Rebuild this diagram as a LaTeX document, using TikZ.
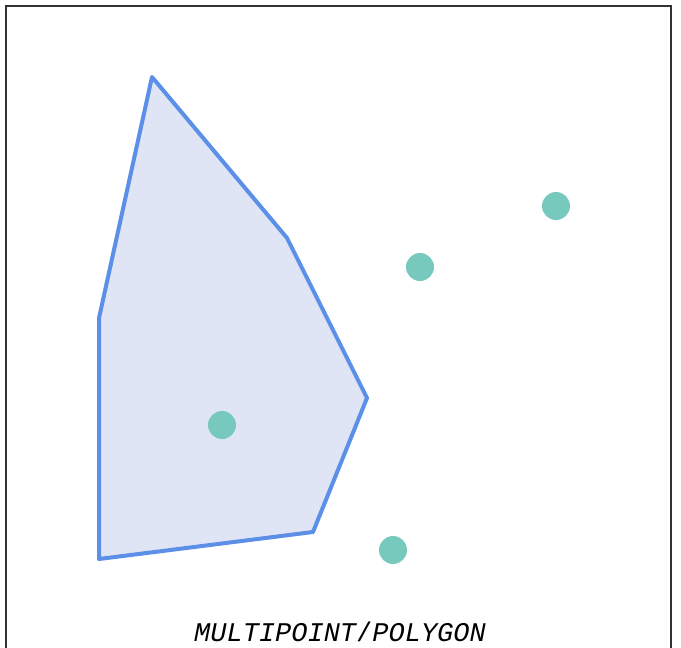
\documentclass[tikz,border=0pt]{standalone}
\usepackage{fontspec}
\newfontfamily\monofont{Liberation Mono}
\definecolor{polyfill}{HTML}{DFE5F4}
\definecolor{polyline}{HTML}{5B8FE8}
\definecolor{dotcol}{HTML}{77C9BE}
\begin{document}
\begin{tikzpicture}[x=1pt,y=-1pt,
  frame/.style={draw=black!80,line width=2pt},
  poly/.style={draw=polyline,fill=polyfill,line width=4pt,line join=round},
  dot/.style={circle,fill=dotcol,inner sep=0pt,minimum size=28pt}]
\useasboundingbox (0,0) rectangle (681,648);
\draw[frame] (6,648) -- (6,6) -- (671,6) -- (671,648);
\draw[poly] (152,77) -- (287,238) -- (367,398) -- (313,532) -- (99,559) -- (99,318) -- cycle;
\node[dot] (p1) at (556,206) {};
\node[dot] (p2) at (420,267) {};
\node[dot] (p3) at (222,425) {};
\node[dot] (p4) at (393,550) {};
\node (lbl) at (340,632) {\fontsize{27}{30}\selectfont\monofont\itshape MULTIPOINT\upshape/\itshape POLYGON};
\end{tikzpicture}
\end{document}
